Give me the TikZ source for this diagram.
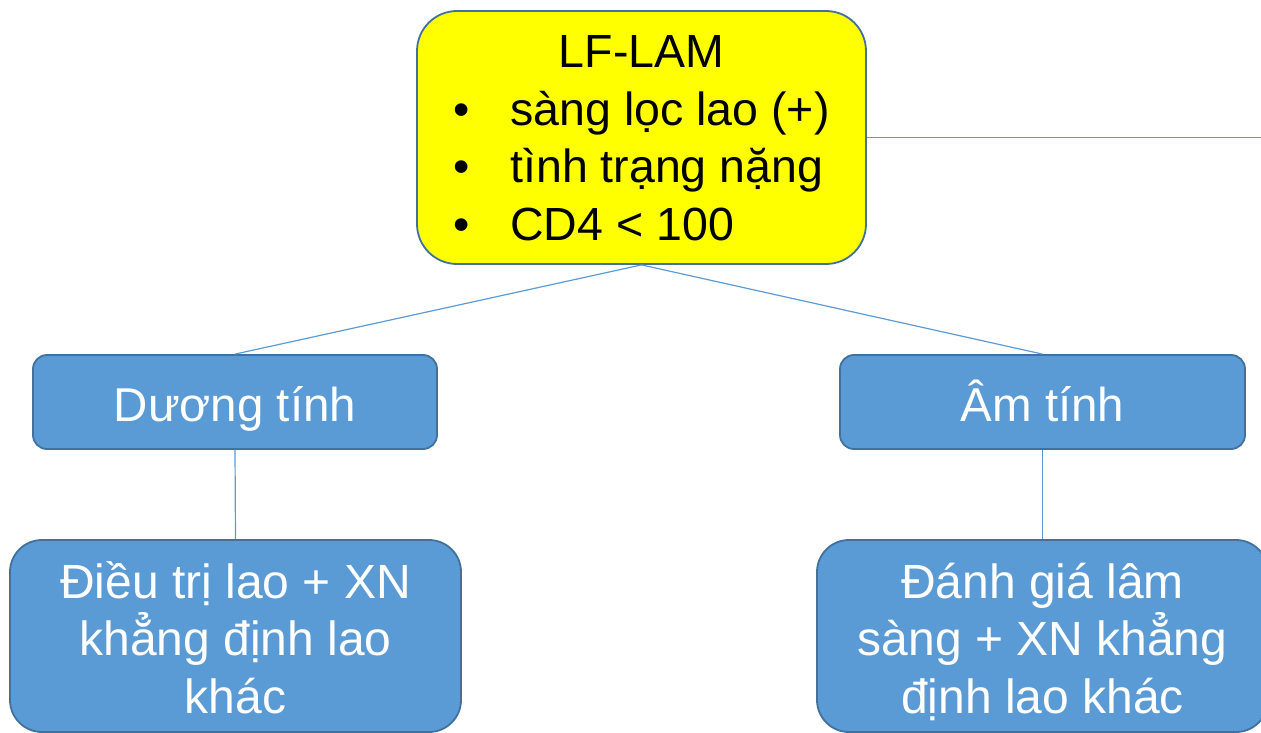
\documentclass[tikz,border=0pt]{standalone}
\usepackage{fontspec}
\setmainfont{Liberation Sans}
\definecolor{boxblue}{HTML}{5B9BD5}
\definecolor{edgeblue}{HTML}{41719C}
\definecolor{lamyellow}{HTML}{FFFF00}
% one line of a box: its height is left to the row strut
\newcommand\boxline[1]{\smash{#1}}
\newcommand\itemmark{\makebox[57pt][l]{•}}

\begin{document}
\begin{tikzpicture}[x=1pt,y=-1pt,
  box/.style={draw=edgeblue, line width=1.8pt, inner sep=0pt},
  bluebox/.style={box, fill=boxblue, text=white},
  link/.style={draw=boxblue, line width=1.2pt}]
\useasboundingbox (0,0) rectangle (1261,733);

% root: test with its three criteria
\node[box, fill=lamyellow, rounded corners=40pt,
      font=\fontsize{46.5}{57.5}\selectfont,
      minimum width=449pt, minimum height=253pt,
      text height=0pt, text depth=139pt] (lam) at (641.5,137.5)
  {\begin{tabular}[t]{@{}l@{}}
     \multicolumn{1}{@{}c@{}}{\boxline{LF-LAM}}\\
     \itemmark\boxline{sàng lọc lao (+)}\\
     \itemmark\boxline{tình trạng nặng}\\
     \itemmark\boxline{CD4 < 100}
   \end{tabular}};

% results
\node[bluebox, rounded corners=14pt, font=\fontsize{47.5}{57.5}\selectfont,
      minimum width=404pt, minimum height=94pt,
      text height=38pt, text depth=0pt] (pos) at (235,402) {Dương tính};
\node[bluebox, rounded corners=14pt, font=\fontsize{47.5}{57.5}\selectfont,
      minimum width=405pt, minimum height=94pt,
      text height=38pt, text depth=0pt] (neg) at (1042.5,402) {Âm tính};

% follow-up actions
\node[bluebox, rounded corners=32pt, font=\fontsize{48}{57.5}\selectfont,
      minimum width=451pt, minimum height=192pt,
      text height=0pt, text depth=76pt] (treat) at (235.5,636)
  {\begin{tabular}[t]{@{}c@{}}
     \boxline{Điều trị lao + XN}\\
     \boxline{khẳng định lao}\\
     \boxline{khác}
   \end{tabular}};
\node[bluebox, rounded corners=32pt, font=\fontsize{48}{57.5}\selectfont,
      minimum width=451pt, minimum height=192pt,
      text height=0pt, text depth=76pt] (assess) at (1042.5,636)
  {\begin{tabular}[t]{@{}c@{}}
     \boxline{Đánh giá lâm}\\
     \boxline{sàng + XN khẳng}\\
     \boxline{định lao khác}
   \end{tabular}};

\coordinate (offpage) at (1275,137.5);

% connectors
\draw[link] (lam.south) -- (pos.north);
\draw[link] (lam.south) -- (neg.north);
\draw[link] (pos.south) -- (treat.north);
\draw[link] (neg.south) -- (assess.north);
\draw[link] (lam.east) -- (offpage);
\end{tikzpicture}
\end{document}
